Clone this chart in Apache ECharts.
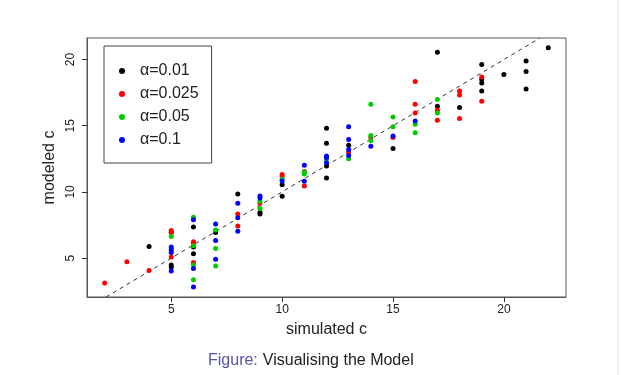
<!DOCTYPE html>
<html>
<head>
<meta charset="utf-8">
<script src="https://cdn.jsdelivr.net/npm/echarts@6/dist/echarts.min.js"></script>
<style>
  html, body { margin: 0; padding: 0; background: #fff; }
  #chart { width: 621px; height: 375px; }
</style>
</head>
<body>
<div id="chart"></div>
<script>
// simulated c vs modeled c, one list per alpha
var alpha001 = [
  [4, 5.87], [5, 6.95], [5, 4.47], [5, 4.32], [6, 7.34], [6, 5.83], [6, 5.32], [7, 6.93],
  [8, 9.85], [9, 8.44], [9, 8.34], [10, 10.55], [10, 9.67], [12, 14.82], [12, 13.67],
  [12, 11.96], [12, 11.05], [13, 13.52], [15, 13.29], [17, 20.55], [17, 16.48], [18, 16.38],
  [19, 19.62], [19, 18.49], [19, 18.23], [19, 17.63], [20, 18.87], [21, 19.89], [21, 19.09],
  [21, 17.78], [22, 20.9]
];
var alpha0025 = [
  [2, 3.12], [3, 4.72], [4, 4.07], [5, 7.08], [5, 6.93], [5, 5.08], [6, 6.23], [6, 6.13],
  [6, 4.67], [8, 8.34], [8, 7.43], [9, 9.14], [10, 11.31], [10, 11.16], [11, 11.55],
  [11, 10.45], [13, 13.01], [14, 14.12], [15, 14.12], [16, 18.34], [16, 16.63], [16, 15.97],
  [17, 16.18], [17, 15.42], [18, 17.63], [18, 17.33], [18, 15.55], [19, 18.69], [19, 16.85]
];
var alpha005 = [
  [5, 6.63], [6, 8.09], [6, 5.93], [6, 4.47], [6, 3.37], [7, 7.13], [7, 5.72], [7, 4.40],
  [9, 9.29], [9, 8.74], [10, 10.95], [11, 11.5], [11, 11.35], [12, 12.46], [13, 12.51],
  [14, 16.63], [14, 14.27], [14, 13.86], [15, 15.67], [15, 14.92], [16, 15.12], [16, 14.47],
  [17, 16.98], [17, 15.97]
];
var alpha01 = [
  [5, 5.83], [5, 5.63], [5, 5.42], [5, 4.02], [6, 7.89], [6, 4.22], [6, 2.81], [7, 7.58],
  [7, 6.33], [7, 4.92], [8, 9.14], [8, 8.04], [8, 7.03], [9, 9.69], [9, 9.54], [10, 10.82],
  [11, 12.01], [11, 10.8], [12, 12.71], [12, 12.61], [12, 12.2], [13, 14.92], [13, 13.97],
  [13, 13.21], [13, 12.76], [14, 13.46], [15, 14.22], [16, 15.35]
];
var seriesNames = ['\u03b1=0.01', '\u03b1=0.025', '\u03b1=0.05', '\u03b1=0.1'];
var seriesColors = ['#000000', '#ff0000', '#00cd00', '#0000ff'];
var tickValues = [5, 10, 15, 20];
var xRange = [1.2, 22.8];
var yRange = [2.06, 21.63];

// identity line y = x across the plot
var lo = Math.max(xRange[0], yRange[0]);
var hi = Math.min(xRange[1], yRange[1]);
var identity = [[lo, lo], [hi, hi]];

var font = '"Liberation Sans", Arial, sans-serif';
var chart = echarts.init(document.getElementById('chart'), null, { renderer: 'canvas' });

var allData = [alpha001, alpha0025, alpha005, alpha01];
var series = allData.map(function (d, i) {
  return {
    name: seriesNames[i],
    type: 'scatter',
    data: d,
    symbol: 'circle',
    symbolSize: 5,
    itemStyle: { color: seriesColors[i], opacity: 1 },
    emphasis: { disabled: true },
    z: 3 + i
  };
});
series.push({
  type: 'line',
  data: identity,
  symbol: 'none',
  lineStyle: { color: '#333', width: 1, type: [4, 4] },
  silent: true,
  z: 2
});

chart.setOption({
  animation: false,
  backgroundColor: '#fff',
  title: {
    text: '{a|Figure:} {b|Visualising the Model}',
    left: 203,
    top: 347,
    textStyle: {
      fontWeight: 'normal',
      rich: {
        a: { color: '#5555a6', fontSize: 16, fontWeight: 'normal', fontFamily: font },
        b: { color: '#222', fontSize: 16, fontWeight: 'normal', fontFamily: font }
      }
    }
  },
  legend: {
    data: seriesNames.map(function (n) { return { name: n, icon: 'circle' }; }),
    orient: 'vertical',
    left: 104,
    top: 46,
    itemWidth: 6,
    itemHeight: 6,
    itemGap: 7,
    padding: [17, 13, 15, 15],
    borderColor: '#444',
    borderWidth: 1,
    backgroundColor: '#fff',
    selectedMode: false,
    textStyle: {
      fontFamily: font,
      fontSize: 16,
      lineHeight: 16,
      color: '#222',
      padding: [0, 0, 0, 10]
    }
  },
  grid: {
    left: 87,
    right: 55,
    top: 38,
    bottom: 78,
    show: true,
    borderColor: '#555',
    borderWidth: 1
  },
  xAxis: {
    type: 'value',
    min: xRange[0],
    max: xRange[1],
    name: 'simulated c',
    nameLocation: 'middle',
    nameGap: 25,
    nameTextStyle: { fontFamily: font, fontSize: 16, color: '#222' },
    axisLine: { show: true, lineStyle: { color: '#555' } },
    axisTick: { show: true, length: 5, customValues: tickValues, lineStyle: { color: '#333' } },
    axisLabel: { customValues: tickValues, fontFamily: font, fontSize: 12, color: '#222', margin: 7 },
    splitLine: { show: false }
  },
  yAxis: {
    type: 'value',
    min: yRange[0],
    max: yRange[1],
    name: 'modeled c',
    nameLocation: 'middle',
    nameRotate: 90,
    nameGap: 29,
    nameTextStyle: { fontFamily: font, fontSize: 16, color: '#222' },
    axisLine: { show: true, lineStyle: { color: '#555' } },
    axisTick: { show: true, length: 5, customValues: tickValues, lineStyle: { color: '#333' } },
    axisLabel: { customValues: tickValues, rotate: 90, fontFamily: font, fontSize: 12, color: '#222', margin: 10 },
    splitLine: { show: false }
  },
  graphic: [{
    type: 'line',
    shape: { x1: 618, y1: 0, x2: 618, y2: 375 },
    style: { stroke: '#e4e4e4', lineWidth: 1 },
    silent: true
  }],
  series: series
});
</script>
</body>
</html>
